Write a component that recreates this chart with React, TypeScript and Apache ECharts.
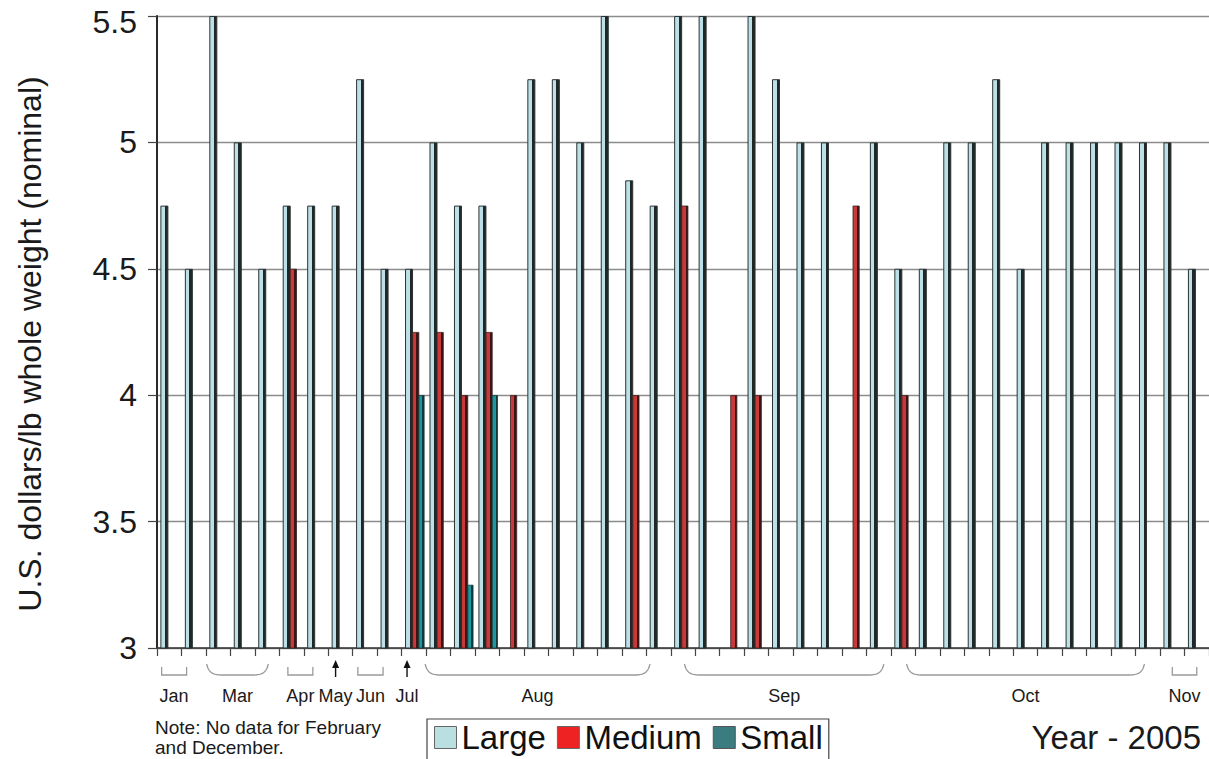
import React, { useEffect, useRef } from "react";
import * as echarts from "echarts";

// ---- data ----
const categories = [
  "Jan-1", "Jan-2",
  "Mar-1", "Mar-2", "Mar-3",
  "Apr-1", "Apr-2",
  "May-1",
  "Jun-1", "Jun-2",
  "Jul-1",
  "Aug-1", "Aug-2", "Aug-3", "Aug-4", "Aug-5", "Aug-6", "Aug-7", "Aug-8", "Aug-9", "Aug-10",
  "Sep-1", "Sep-2", "Sep-3", "Sep-4", "Sep-5", "Sep-6", "Sep-7", "Sep-8", "Sep-9",
  "Oct-1", "Oct-2", "Oct-3", "Oct-4", "Oct-5", "Oct-6", "Oct-7", "Oct-8", "Oct-9", "Oct-10", "Oct-11",
  "Nov-1", "Nov-2",
];

const largeValues = [
  4.75, 4.5,
  5.5, 5.0, 4.5,
  4.75, 4.75,
  4.75,
  5.25, 4.5,
  4.5,
  5.0, 4.75, 4.75, null, 5.25, 5.25, 5.0, 5.5, 4.85, 4.75,
  5.5, 5.5, null, 5.5, 5.25, 5.0, 5.0, null, 5.0,
  4.5, 4.5, 5.0, 5.0, 5.25, 4.5, 5.0, 5.0, 5.0, 5.0, 5.0,
  5.0, 4.5,
];

const mediumValues = [
  null, null,
  null, null, null,
  4.5, null,
  null,
  null, null,
  4.25,
  4.25, 4.0, 4.25, 4.0, null, null, null, null, 4.0, null,
  4.75, null, 4.0, 4.0, null, null, null, 4.75, null,
  4.0, null, null, null, null, null, null, null, null, null, null,
  null, null,
];

const smallValues = [
  null, null,
  null, null, null,
  null, null,
  null,
  null, null,
  4.0,
  null, 3.25, 4.0, null, null, null, null, null, null, null,
  null, null, null, null, null, null, null, null, null,
  null, null, null, null, null, null, null, null, null, null, null,
  null, null,
];

const yTicks = [3, 3.5, 4, 4.5, 5, 5.5];

// month groups: index range of categories
const monthGroups = [
  { month: "Jan", first: 0, last: 1 },
  { month: "Mar", first: 2, last: 4 },
  { month: "Apr", first: 5, last: 6 },
  { month: "May", first: 7, last: 7 },
  { month: "Jun", first: 8, last: 9 },
  { month: "Jul", first: 10, last: 10 },
  { month: "Aug", first: 11, last: 20 },
  { month: "Sep", first: 21, last: 29 },
  { month: "Oct", first: 30, last: 40 },
  { month: "Nov", first: 41, last: 42 },
];

// ---- layout of month markers (kind, start fraction in first category, end fraction in last) ----
const markerLayout: Record<string, [string, number, number]> = {
  Jan: ["square", 0.19, 0.21],
  Mar: ["curve", 0.03, 0.55],
  Apr: ["square", 0.35, 0.37],
  May: ["arrow", 0.3, 0.3],
  Jun: ["square", 0.21, 0.24],
  Jul: ["arrow", 0.22, 0.22],
  Aug: ["curve", -0.04, 0.15],
  Sep: ["curve", 0.56, 0.71],
  Oct: ["curve", 0.64, 0.36],
  Nov: ["square", 0.5, 0.5],
};

const FONT = "'Liberation Sans', Arial, Helvetica, sans-serif";

export default function App() {
  const ref = useRef<HTMLDivElement>(null);

  useEffect(() => {
    const el = ref.current;
    if (!el) return;
    const chart = echarts.init(el, null, { renderer: "svg" });

    const fill = (light: string, dark: string, stop: number) =>
      new echarts.graphic.LinearGradient(0, 0, 1, 0, [
        { offset: 0, color: light },
        { offset: stop, color: light },
        { offset: stop, color: dark },
        { offset: 1, color: dark },
      ]);

    const yMax = yTicks[yTicks.length - 1];

    chart.setOption({
      animation: false,
      textStyle: { fontFamily: FONT },
      grid: { left: 157, right: 0, top: 16, bottom: 111, containLabel: false },
      legend: {
        left: 427,
        top: 719,
        orient: "horizontal",
        selectedMode: false,
        icon: "rect",
        itemWidth: 22,
        itemHeight: 22,
        itemGap: 11,
        padding: [2, 6, 20, 7],
        borderColor: "#444",
        borderWidth: 1.2,
        backgroundColor: "#fff",
        textStyle: { fontSize: 33, color: "#111", fontFamily: FONT },
        data: [
          { name: "Large", itemStyle: { color: "#b9dfe0", borderColor: "#666", borderWidth: 1 } },
          { name: "Medium", itemStyle: { color: "#ee2222", borderColor: "#666", borderWidth: 1 } },
          { name: "Small", itemStyle: { color: "#3a7c80", borderColor: "#555", borderWidth: 1 } },
        ],
      },
      xAxis: {
        type: "category",
        data: categories,
        boundaryGap: true,
        axisLine: { show: true, lineStyle: { color: "#333", width: 1.5 } },
        axisTick: { show: true, interval: 0, length: 8, lineStyle: { color: "#444", width: 1.2 } },
        axisLabel: { show: false },
        splitLine: { show: false },
      },
      yAxis: {
        type: "value",
        min: yTicks[0],
        max: yMax,
        interval: 0.5,
        axisLine: { show: true, lineStyle: { color: "#2a2a2a", width: 2 } },
        axisTick: { show: true, length: 9, lineStyle: { color: "#444", width: 1.2 } },
        axisLabel: {
          fontSize: 32,
          color: "#1a1a1a",
          margin: 20,
          fontFamily: FONT,
          formatter: (v: number) => (v === yMax ? "{top|" + v + "}" : String(v)),
          rich: {
            top: { fontSize: 32, color: "#1a1a1a", fontFamily: FONT, padding: [12, 0, 0, 0] },
          },
        },
        splitLine: { show: true, lineStyle: { color: "#8c8c8c", width: 1.3 } },
      },
      series: [
        { name: "gap", type: "bar", data: [], barWidth: 2, barGap: "-10%", silent: true },
        {
          name: "Large",
          type: "bar",
          data: largeValues,
          barWidth: 8,
          barGap: "-10%",
          itemStyle: { color: fill("#bde0e8", "#1f2727", 0.58), borderColor: "#2b3333", borderWidth: 1 },
        },
        {
          name: "Medium",
          type: "bar",
          data: mediumValues,
          barWidth: 7,
          barGap: "-10%",
          itemStyle: { color: fill("#c8393a", "#3a1515", 0.62), borderColor: "#3a2020", borderWidth: 0.8 },
        },
        {
          name: "Small",
          type: "bar",
          data: smallValues,
          barWidth: 6,
          barGap: "-10%",
          itemStyle: { color: fill("#1a9aa0", "#10393a", 0.62), borderColor: "#163a3a", borderWidth: 0.8 },
        },
      ],
    });

    // month markers computed from the category axis
    const x0 = chart.convertToPixel({ xAxisIndex: 0 }, 0) as number;
    const x1 = chart.convertToPixel({ xAxisIndex: 0 }, 1) as number;
    const cw = x1 - x0;
    const edge = (i: number) => x0 - cw / 2 + i * cw;
    const axisY = chart.convertToPixel({ yAxisIndex: 0 }, yTicks[0]) as number;

    const stroke = { stroke: "#9a9a9a", lineWidth: 1.3 };
    const elements: any[] = [];
    const yTop = axisY + 18;
    const yBot = axisY + 27;

    monthGroups.forEach((g) => {
      const [kind, fa, fb] = markerLayout[g.month];
      const xa = edge(g.first + fa);
      const xb = edge(g.last + fb);
      let labelX = (xa + xb) / 2;
      if (kind === "square") {
        elements.push({
          type: "polyline",
          shape: { points: [[xa, yTop + 1], [xa, yBot], [xb, yBot], [xb, yTop + 1]] },
          style: { ...stroke, fill: null },
          silent: true,
        });
      } else if (kind === "curve") {
        const r = 13;
        elements.push(
          {
            type: "bezierCurve",
            shape: { x1: xa, y1: yTop - 2, cpx1: xa + 2, cpy1: yBot, x2: xa + r, y2: yBot },
            style: { ...stroke, fill: null },
            silent: true,
          },
          {
            type: "line",
            shape: { x1: xa + r, y1: yBot, x2: xb - r, y2: yBot },
            style: stroke,
            silent: true,
          },
          {
            type: "bezierCurve",
            shape: { x1: xb - r, y1: yBot, cpx1: xb - 2, cpy1: yBot, x2: xb, y2: yTop - 2 },
            style: { ...stroke, fill: null },
            silent: true,
          }
        );
      } else {
        labelX = xa;
        elements.push(
          {
            type: "line",
            shape: { x1: xa, y1: axisY + 29, x2: xa, y2: axisY + 17 },
            style: { stroke: "#111", lineWidth: 1.4 },
            silent: true,
          },
          {
            type: "polygon",
            shape: { points: [[xa - 3.5, axisY + 20], [xa + 3.5, axisY + 20], [xa, axisY + 12]] },
            style: { fill: "#111" },
            silent: true,
          }
        );
      }
      elements.push({
        type: "text",
        x: labelX,
        y: axisY + 48,
        silent: true,
        style: {
          text: g.month,
          fontSize: 18,
          fontFamily: FONT,
          fill: "#1a1a1a",
          align: "center",
          verticalAlign: "middle",
          textAlign: "center",
          textVerticalAlign: "middle",
        },
      });
    });

    elements.push(
      {
        type: "text",
        x: 30,
        y: 344,
        rotation: Math.PI / 2,
        silent: true,
        style: {
          text: "U.S. dollars/lb whole weight (nominal)",
          fontSize: 32,
          fontFamily: FONT,
          fill: "#1a1a1a",
          align: "center",
          verticalAlign: "middle",
          textAlign: "center",
          textVerticalAlign: "middle",
        },
      },
      {
        type: "text",
        x: 155,
        y: 717,
        silent: true,
        style: {
          text: "Note: No data for February\nand December.",
          fontSize: 19,
          lineHeight: 20,
          fontFamily: FONT,
          fill: "#1a1a1a",
          align: "left",
          verticalAlign: "top",
          textAlign: "left",
          textVerticalAlign: "top",
        },
      },
      {
        type: "text",
        x: 1201,
        y: 737,
        silent: true,
        style: {
          text: "Year - 2005",
          fontSize: 33,
          fontFamily: FONT,
          fill: "#1a1a1a",
          align: "right",
          verticalAlign: "middle",
          textAlign: "right",
          textVerticalAlign: "middle",
        },
      }
    );

    chart.setOption({ graphic: elements });

    return () => {
      chart.dispose();
    };
  }, []);

  return (
    <div
      ref={ref}
      style={{ position: "absolute", left: 0, top: 0, width: 1209, height: 759, background: "#fff" }}
    />
  );
}
